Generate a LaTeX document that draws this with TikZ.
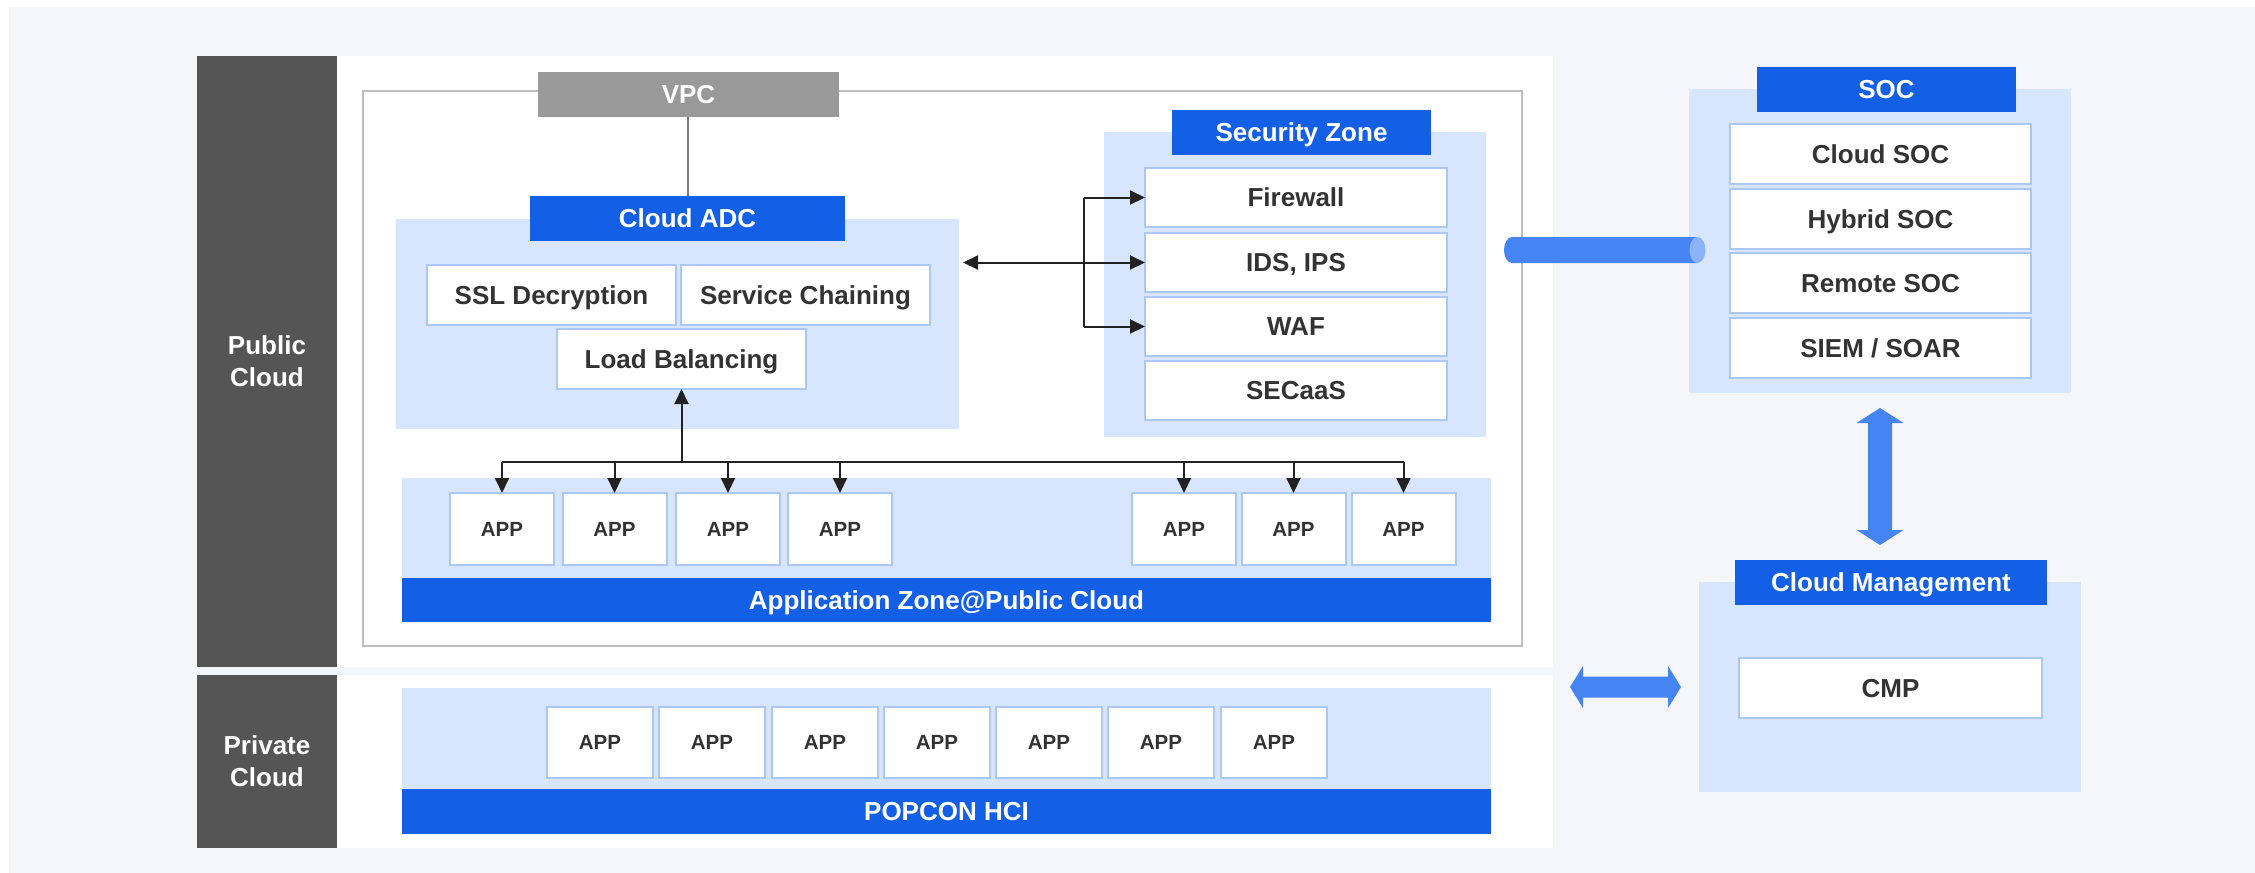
\documentclass[tikz,border=0pt]{standalone}
\usepackage{fontspec}
\setmainfont{Liberation Sans}
\usetikzlibrary{arrows.meta,calc}
\definecolor{bgc}{HTML}{F4F6FA}
\definecolor{darkbar}{HTML}{555555}
\definecolor{zonebg}{HTML}{D8E6FD}
\definecolor{blue1}{HTML}{135FE6}
\definecolor{boxborder}{HTML}{ABC8F4}
\definecolor{txt}{HTML}{333333}
\definecolor{vpcgray}{HTML}{999999}
\definecolor{vpcborder}{HTML}{BEBEBE}
\definecolor{cline}{HTML}{222222}
\definecolor{arrowblue}{HTML}{4584F2}
\definecolor{capblue}{HTML}{8DB3F7}
\newcommand\mylabfont{\fontsize{26}{32}\selectfont\bfseries}
\newcommand\myappfont{\fontsize{20.5}{24}\selectfont\bfseries}
\begin{document}
\begin{tikzpicture}[x=1pt,y=-1pt,
  capc/.style={text height=18.7pt,text depth=0pt},
  zone/.style={rectangle,fill=zonebg,draw=none,inner sep=0,outer sep=0},
  lbl/.style={rectangle,fill=blue1,text=white,font=\mylabfont,inner sep=0,outer sep=0,capc},
  side/.style={rectangle,fill=darkbar,text=white,font=\mylabfont,inner sep=0,outer sep=0,align=center},
  box/.style={rectangle,fill=white,draw=boxborder,line width=2pt,text=txt,font=\mylabfont,inner sep=0,outer sep=0,capc},
  appbox/.style={box,font=\myappfont,text height=14.7pt,minimum width=104,minimum height=72},
  papp/.style={box,font=\myappfont,text height=14.7pt,minimum width=106,minimum height=71},
  conn/.style={draw=cline,line width=2pt,-{Triangle[length=15pt,width=14pt]}},
  plain/.style={draw=cline,line width=2pt},
  blockarrow/.style={fill=arrowblue}
]
\useasboundingbox (0,0) rectangle (2255,873);
\fill[white] (0,0) rectangle (2255,873);
\fill[bgc] (9,7) rectangle (2255,873);

% left bars and white panels
\fill[white] (337,56) rectangle (1553,667);
\fill[white] (337,675) rectangle (1553,848);
\node[side,minimum width=140,minimum height=611] (pubbar) at (267,361.5) {Public\\Cloud};
\node[side,minimum width=140,minimum height=173] (pribar) at (267,761.5) {Private\\Cloud};

% VPC border
\draw[vpcborder,line width=2.5pt] (363,91) rectangle (1522,646);
\node[rectangle,fill=vpcgray,text=white,font=\mylabfont,inner sep=0,capc,minimum width=301,minimum height=45] (vpc) at (688.5,94.5) {VPC};

% Cloud ADC
\node[zone,minimum width=563,minimum height=210] (adczone) at (677.5,324) {};
\node[lbl,minimum width=315,minimum height=45] (adc) at (687.5,218.5) {Cloud ADC};
\draw[vpcgray!80!black,line width=2pt] (adc.north |- vpc.south) -- (adc.north);
\node[box,minimum width=249,minimum height=60] (ssl) at (551.5,295) {SSL Decryption};
\node[box,minimum width=249,minimum height=60] (sc) at (805.5,295) {Service Chaining};
\node[box,minimum width=249,minimum height=60] (lb) at (681.5,359) {Load Balancing};

% Security zone
\node[zone,minimum width=382,minimum height=305] (seczone) at (1295,284.5) {};
\node[lbl,minimum width=259,minimum height=45] (seclbl) at (1301.5,132.5) {Security Zone};
\node[box,minimum width=302,minimum height=59] (fw) at (1296,197.5) {Firewall};
\node[box,minimum width=302,minimum height=59] (ids) at (1296,262.5) {IDS, IPS};
\node[box,minimum width=302,minimum height=59] (waf) at (1296,326.5) {WAF};
\node[box,minimum width=302,minimum height=59] (secaas) at (1296,390.5) {SECaaS};

% connectors ADC <-> security
\coordinate (fork) at (1084,262.5);
\draw[draw=cline,line width=2pt,{Triangle[length=15pt,width=14pt]}-{Triangle[length=15pt,width=14pt]}] ($(adczone.east |- ids.west)+(4,0)$) -- (ids.west);
\draw[plain] (fork |- fw.west) -- (fork |- waf.west);
\draw[conn] (fork |- fw.west) -- (fw.west);
\draw[conn] (fork |- waf.west) -- (waf.west);

% Application zone public
\node[zone,minimum width=1089,minimum height=100] (appzone) at (946.5,528) {};
\node[lbl,minimum width=1089,minimum height=44] (appbar) at (946.5,600) {Application Zone@Public Cloud};
\node[appbox] (a1) at (502,529) {APP};
\node[appbox] (a2) at (614.5,529) {APP};
\node[appbox] (a3) at (728,529) {APP};
\node[appbox] (a4) at (840,529) {APP};
\node[appbox] (a5) at (1184,529) {APP};
\node[appbox] (a6) at (1293.5,529) {APP};
\node[appbox] (a7) at (1403.5,529) {APP};

\coordinate (bus) at (676,462);
\draw[conn] (lb.south |- bus) -- (lb.south);
\draw[plain] (a1.north |- bus) -- (a7.north |- bus);
\foreach \a in {a1,a2,a3,a4,a5,a6,a7}{
  \draw[conn] (\a.north |- bus) -- (\a.north);
}

% Private cloud
\node[zone,minimum width=1089,minimum height=101] (privzone) at (946.5,738.5) {};
\node[lbl,minimum width=1089,minimum height=45] (popcon) at (946.5,811.5) {POPCON HCI};
\foreach \i/\cx in {1/600,2/712,3/825,4/937,5/1049,6/1161,7/1274}{
  \node[papp] (p\i) at (\cx,742.5) {APP};
}

% SOC
\node[zone,minimum width=382,minimum height=304] (soczone) at (1880,241) {};
\node[lbl,minimum width=259,minimum height=45] (soclbl) at (1886.5,89.5) {SOC};
\node[box,minimum width=301,minimum height=60] (csoc) at (1880.5,154) {Cloud SOC};
\node[box,minimum width=301,minimum height=60] (hsoc) at (1880.5,219) {Hybrid SOC};
\node[box,minimum width=301,minimum height=60] (rsoc) at (1880.5,283) {Remote SOC};
\node[box,minimum width=301,minimum height=60] (siem) at (1880.5,348) {SIEM / SOAR};

% Cloud management
\node[zone,minimum width=382,minimum height=210] (cmzone) at (1890,687) {};
\node[lbl,minimum width=312,minimum height=45] (cmlbl) at (1891,582.5) {Cloud Management};
\node[box,minimum width=303,minimum height=60] (cmp) at (1890.5,688) {CMP};

% pipe between VPC and SOC
\coordinate (pipeL) at (1512,250);
\coordinate (pipeR) at (1697.5,250);
\fill[arrowblue] ($(pipeR)+(0,-13)$) -- ($(pipeL)+(0,-13)$) arc[start angle=90,end angle=270,x radius=8,y radius=-13] -- ($(pipeR)+(0,13)$) -- cycle;
\fill[capblue] (pipeR) ellipse[x radius=8,y radius=13];

% vertical block arrow SOC <-> Cloud Management
\coordinate (vt) at (1880,408);
\coordinate (vb) at (1880,545);
\fill[blockarrow] (vt) -- ++(23.5,15) -- ++(-11.5,0) -- ++(0,107) -- ++(11.5,0) -- (vb) -- ++(-23.5,-15) -- ++(11.5,0) -- ++(0,-107) -- ++(-11.5,0) -- cycle;

% horizontal block arrow Private cloud <-> Cloud Management
\coordinate (hl) at (1570,687);
\coordinate (hr) at (1681,687);
\fill[blockarrow] (hl) -- ++(13,-21) -- ++(0,10.5) -- ++(85,0) -- ++(0,-10.5) -- (hr) -- ++(-13,21) -- ++(0,-10.5) -- ++(-85,0) -- ++(0,10.5) -- cycle;
\end{tikzpicture}
\end{document}
